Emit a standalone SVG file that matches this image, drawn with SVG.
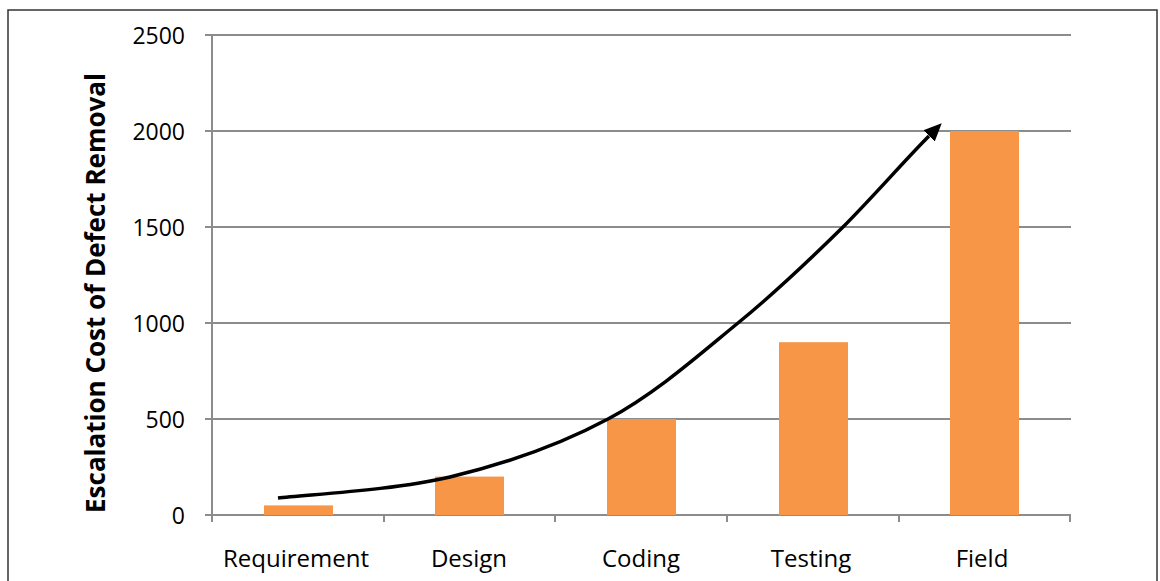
<svg xmlns="http://www.w3.org/2000/svg" width="1160" height="581" viewBox="0 0 1160 581">
  <style>
    .grid { stroke: #8c8c8c; stroke-width: 2; fill: none; }
    .bar { fill: #f79646; }
    .ylab { font-family: "Open Sans", "Noto Sans", sans-serif; font-size: 23px; fill: #000; text-anchor: end; }
    .xlab { font-family: "Open Sans", "Noto Sans", sans-serif; font-size: 24px; fill: #000; text-anchor: middle; }
    .title { font-family: "Open Sans", "Noto Sans", sans-serif; font-size: 26px; font-weight: bold; fill: #000; text-anchor: middle; }
    .trend { stroke: #000; stroke-width: 3.5; fill: none; }
  </style>
  <defs>
    <marker id="arrowHead" markerUnits="userSpaceOnUse" markerWidth="20" markerHeight="18" refX="0" refY="8" orient="auto" viewBox="0 0 20 16">
      <path d="M0,0 L18,8 L0,16 z" fill="#000"/>
    </marker>
  </defs>

  <rect x="0" y="0" width="1160" height="581" fill="#fff"/>
  <!-- frame -->
  <rect x="8" y="10" width="1149" height="600" fill="none" stroke="#333" stroke-width="1.5"/>

  <!-- gridlines and axes -->
  <g id="axes">
    <path class="grid" d="M205,35 H1071 M205,131 H1071 M205,227 H1071 M205,323 H1071 M205,419 H1071 M205,515 H1071"/>
    <path class="grid" d="M212,35 V522 M384,515 V522 M555,515 V522 M727,515 V522 M899,515 V522 M1070,515 V522"/>
  </g>

  <!-- value axis labels -->
  <g id="y-labels">
    <text class="ylab" x="185" y="44">2500</text>
    <text class="ylab" x="185" y="140">2000</text>
    <text class="ylab" x="185" y="236">1500</text>
    <text class="ylab" x="185" y="332">1000</text>
    <text class="ylab" x="185" y="428">500</text>
    <text class="ylab" x="185" y="524">0</text>
  </g>

  <text class="title" transform="translate(105,293) rotate(-90)">Escalation Cost of Defect Removal</text>

  <!-- bars -->
  <g id="bar-requirement"><rect class="bar" x="264" y="505.4" width="69" height="9.6"/></g>
  <g id="bar-design"><rect class="bar" x="435" y="476.6" width="69" height="38.4"/></g>
  <g id="bar-coding"><rect class="bar" x="607" y="419" width="69" height="96"/></g>
  <g id="bar-testing"><rect class="bar" x="779" y="342.2" width="69" height="172.8"/></g>
  <g id="bar-field"><rect class="bar" x="950" y="131" width="69" height="384"/></g>

  <!-- category labels -->
  <g id="x-labels">
    <text class="xlab" x="296" y="567">Requirement</text>
    <text class="xlab" x="469" y="567">Design</text>
    <text class="xlab" x="641" y="567">Coding</text>
    <text class="xlab" x="811" y="567">Testing</text>
    <text class="xlab" x="982" y="567">Field</text>
  </g>

  <!-- escalation trend arrow -->
  <g id="connectors">
    <path class="trend" marker-end="url(#arrowHead)" d="M278,498 C306.7,494.5 395,490.2 450,477 C505,463.8 560,444.7 608,419 C656,393.3 698.8,355 738,323 C777.2,291 809.2,260.3 843,227 C872,198 905,160 929,136"/>
  </g>
</svg>
